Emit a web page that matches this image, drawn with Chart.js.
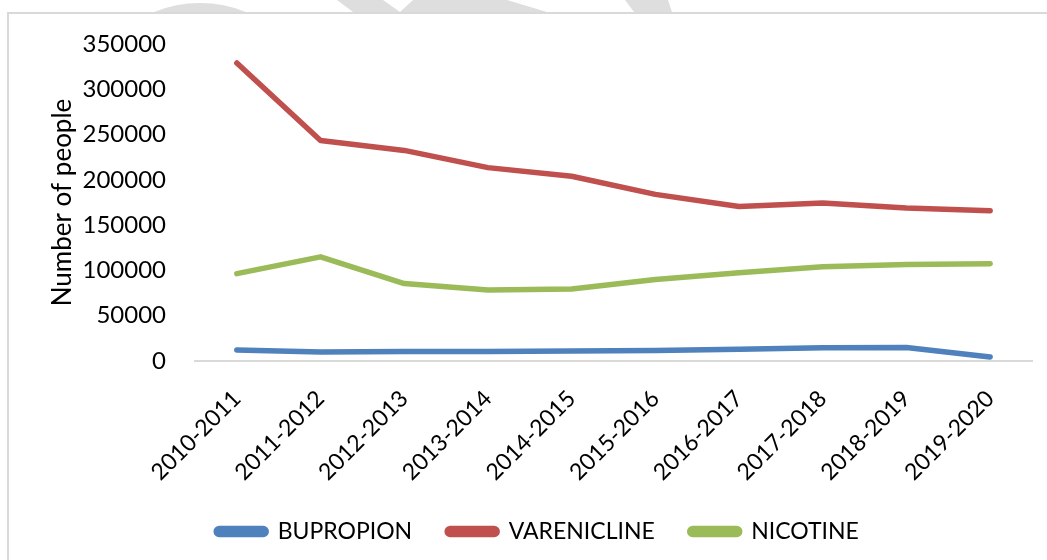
<!DOCTYPE html>
<html>
<head>
<meta charset="utf-8">
<script src="https://cdn.jsdelivr.net/npm/chart.js@4/dist/chart.umd.min.js"></script>
<style>
  html, body { margin: 0; padding: 0; background: #fff; }
  #wrap { position: relative; width: 1047px; height: 560px; overflow: hidden; }
  #frame { position: absolute; left: 7px; top: 12px; width: 1100px; height: 600px;
           border-left: 2px solid #d9d9d9; border-top: 2px solid #d9d9d9; box-sizing: border-box; }
  canvas { position: absolute; left: 0; top: 0; }
</style>
</head>
<body>
<div id="wrap">
  <div id="frame"></div>
  <canvas id="chart" width="1047" height="560"></canvas>
</div>
<script>
const years = ["2010-2011", "2011-2012", "2012-2013", "2013-2014", "2014-2015",
               "2015-2016", "2016-2017", "2017-2018", "2018-2019", "2019-2020"];
const bupropion = [12200, 10000, 10500, 10500, 11000, 11500, 13000, 14500, 15000, 4400];
const varenicline = [329000, 243500, 232500, 213500, 204000, 184000, 170500, 174500, 169000, 166000];
const nicotine = [96500, 115000, 85500, 78500, 79500, 90000, 97500, 104000, 106500, 107500];

const FONT = "Lato";

// faint gray watermark pieces peeking above the frame
const watermark = {
  id: "watermark",
  beforeDraw(chart) {
    const ctx = chart.ctx;
    ctx.save();
    ctx.beginPath();
    ctx.rect(0, 0, 1047, 12);
    ctx.clip();
    ctx.fillStyle = "#dedede";
    ctx.beginPath();
    ctx.arc(200, 124, 121, 0, Math.PI * 2);
    ctx.fill();
    ctx.beginPath();
    ctx.moveTo(337, 0); ctx.lineTo(383, 0); ctx.lineTo(400, 12); ctx.lineTo(353, 12);
    ctx.closePath(); ctx.fill();
    ctx.beginPath();
    ctx.moveTo(413, 0); ctx.lineTo(507, 0); ctx.lineTo(547, 12); ctx.lineTo(400, 12);
    ctx.closePath(); ctx.fill();
    ctx.beginPath();
    ctx.moveTo(625, 0); ctx.lineTo(668, 0); ctx.lineTo(672, 12); ctx.lineTo(634, 12);
    ctx.closePath(); ctx.fill();
    ctx.restore();
  }
};

function series(label, data, color) {
  return {
    label: label,
    data: data,
    borderColor: color,
    backgroundColor: color,
    borderWidth: 5.5,
    borderCapStyle: "round",
    borderJoinStyle: "round",
    pointRadius: 0,
    tension: 0
  };
}

new Chart(document.getElementById("chart"), {
  type: "line",
  data: {
    labels: years,
    datasets: [
      series("BUPROPION", bupropion, "#4F81BD"),
      series("VARENICLINE", varenicline, "#C0504D"),
      series("NICOTINE", nicotine, "#9BBB59")
    ]
  },
  plugins: [watermark],
  options: {
    responsive: false,
    animation: false,
    events: [],
    layout: { padding: { left: 43, right: 15, top: 44, bottom: 7 } },
    scales: {
      x: {
        offset: true,
        grid: { display: false, drawTicks: false },
        border: { display: true, color: "#d9d9d9", width: 2 },
        ticks: {
          color: "#000",
          font: { family: FONT, size: 23 },
          minRotation: 45,
          maxRotation: 45,
          padding: 24
        },
        afterFit: (scale) => {
          scale.height = 124;
          scale.paddingLeft = 0;
          scale.paddingRight = 0;
        }
      },
      y: {
        min: 0,
        max: 350000,
        grid: { display: false, drawTicks: false },
        border: { display: false },
        ticks: {
          stepSize: 50000,
          color: "#000",
          font: { family: FONT, size: 24 },
          padding: 29,
          callback: (value) => String(value)
        },
        title: {
          display: true,
          text: "Number of people",
          color: "#000",
          font: { family: FONT, size: 26 },
          padding: 4
        },
        afterFit: (scale) => {
          scale.width = 152;
          scale.paddingTop = 0;
          scale.paddingBottom = 0;
        }
      }
    },
    plugins: {
      tooltip: { enabled: false },
      legend: {
        position: "bottom",
        labels: {
          color: "#000",
          font: { family: FONT, size: 23 },
          boxWidth: 50,
          boxHeight: 6,
          useBorderRadius: true,
          borderRadius: 3,
          padding: 35
        }
      }
    }
  }
});
</script>
</body>
</html>
